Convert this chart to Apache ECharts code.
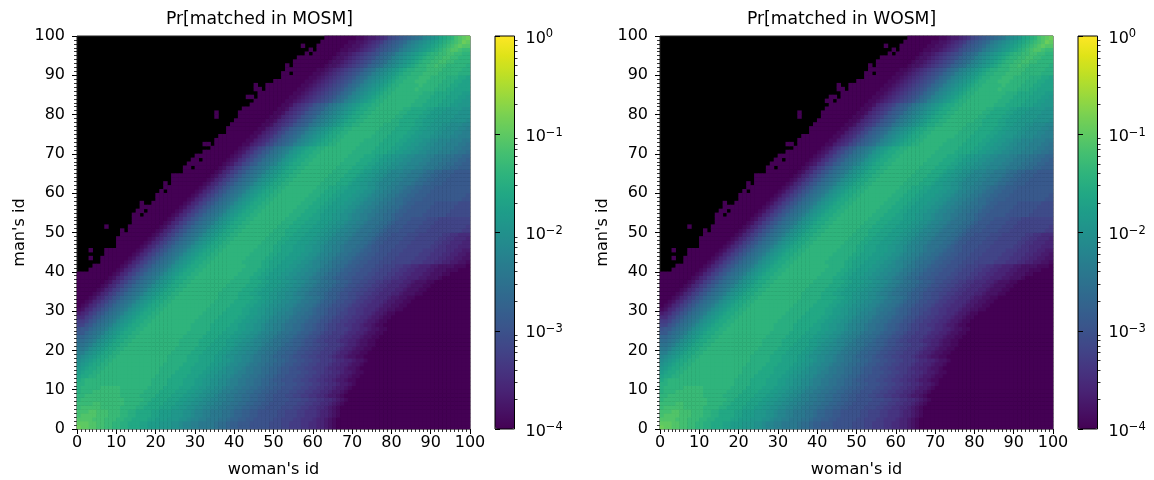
<!DOCTYPE html>
<html>
<head>
<meta charset="utf-8">
<style>
  html, body { margin: 0; padding: 0; background: #fff; }
  #chart { width: 1154px; height: 480px; }
</style>
<script src="https://cdn.jsdelivr.net/npm/echarts@6/dist/echarts.min.js"></script>
</head>
<body>
<div id="chart"></div>
<script>
// Each char is one cell, log10(p) = -4 + 0.1 * level, "." is an empty (black) cell.
const levelChars = "0123456789abcdefghijklmnopqrstuvwxyz";
// Rows go from man's id 0 up. "|" marks the diagonal: left part ends at column row - 1, right part starts at column row.
const matchRows = [
  "|vuuttssrrqqppooonnmmmlllkkjiihhggggfeedccbbbaaaaa99988777665544321",
  "u|uuttssrrqqppooonnmmmlllkkjiihhggggfeedccbbbaaaaa99988777665544321",
  "tt|ttsssrrrqqppoooonnmmmlllkkjiihhgggffeddccbbaaaaa9988877666544321",
  "stt|ttsssrrrqqppoooonnmmmlllkkjiihhgggffeddccbbaaaaa9988877666544321",
  "ssst|tsssrrrqqppoooonnmmmlllkkjiihhgggffeddccbbaaaaa9988877666544321",
  "rssss|srrrrrqqqqppoooonnnmmllkkjjiihhggffeeddccbbaaaa999887766554321",
  "rrrrss|rrrrrrqqqqppoooonnnmmllkkjjiihhggffeeddccbbaaaa999887766554321",
  "qrrrrrr|rrrrrqqqqqppoooonnnmmllkkjjiihhggffeeddccbbaaaa999887766554321",
  "qqrrrrrr|rrrqqqqqppppoooonnnmmllkkjjihhggffeeddccbbaaa998877665543321",
  "pqqqrrrrr|rrqqqqqqppppoooonnnmmllkkjjihhggffeeddccbbaaa998877665543321",
  "pqqqqqrrrr|rqqqqqqqppppoooonnnmmllkkjjihhggffeeddccbbaaa998877665543321",
  "ppqqqqqqqqq|qqqqqqqqppppoooonnnmmllkkjjihhggffeeddccbbaaa998877665543321",
  "opqqqqqqqqqq|qqqqqqqppppoooonnnmmllkkjjihhggffeeddcbbaaa9988776655433211",
  "nooppqqqqqqqq|qqqqqqqppppoooonnnmmllkkjjihhggffeeddcbbaaa9988776655433211",
  "mnooppqqqqqqqq|qqqqqqqppppoooonnnmmllkkjjihhggffeeddcbbaaa9988776655433211",
  "lmnooppqqqqqqqq|qqqqqqpppppooonnnnmmllkjjiihggffeeddcbbaa9988777655443221",
  "klmnooppqqqqqqqq|qqqqqqpppppooonnnnmmllkjjiihggffeeddcbbaa9988777655443221",
  "jklmnooppqqqqqqqq|qqqqqqpppppooonnnnmmllkjjiihggffeeddcbbaa9988777655443221",
  "ijklmnooppqqqqqqqq|qqqqqpppppooonnnnmmlkkjjiihggffeddccbaa9988777654432211",
  "hhjklmnooppqqqqqqqq|qqqqqpppppooonnnnmmlkkjjiihggffeddccbaa9988777654432211",
  "gghjklmnooppqqqqqqqq|qqqqqpppppooonnnnmmlkkjjiihggffeddccbaa9988777654432211",
  "ffghjklmnooppqqqqqqqq|qqqqqpppppooonnnnmmlkkjjiihggffeddccbaa9988777654432211",
  "eefghjklmnooppqqqqqqqq|qqqqpppppoooonnnmmllkkjiihhgffeedccbaa9887776554432211",
  "ddefghjklmnooppqqqqqqqq|qqqqpppppoooonnnmmllkkjiihhgffeedccbaa9887776554432211",
  "bbdefghjklmnooppqqqqqqqq|qqqqpppppoooonnnmmllkkjiihhgffeedccbaa9887776554432211",
  "abbdefghjklmnooppqqqqqqqq|qqqqpppppoooonnnmmllkkjiihhgffeedccbaa9887776554432211",
  "88abdefghjklmnooppqqqqqqqq|qqqpppppooooonnmmllkkjiihhgffeedccbaa988776655433211",
  "778abdefghjklmnooppqqqqqqqq|qqqpppppooooonnmmllkkjiihhgffeedccbaa988776655433211",
  "5578abdefghjklmnooppqqqqqqqq|qqqpppppooooonnmmllkkjiihhgffeedccbaa988776655433211",
  "34578abdefghjklmnooppqqqqqqqq|qqqpppppooooonnmmllkkjiihhgffeedccbaa988776655433211",
  "124578abdefghjklmnooppqqqqqqqq|qqqpppppoooonnmmllkkjjiihggffedccbaa99877665554332211",
  "0124578abdefghjklmnooppqqqqqqqq|qqqpppppoooonnmmllkkjjiihggffedccbaa99877665554332211",
  "00124578abdefghjklmnooppqqqqqqqq|qqqpppppoooonnmmllkkjjiihggffedccbaa99877665554332211",
  "000124578abdefghjklmnooppqqqqqqqq|qqqpppppoooonnmmllkkjjiihggffedccbaa99877665554332211",
  "0000124578abdefghjklmnooppqqqqqqqq|qqpppppooonnmmmllkkjjihhgffeedccbaa9988776655544322211",
  "00000124578abdefghjklmnooppqqqqqqqq|qqpppppooonnmmmllkkjjihhgffeedccbaa9988776655544322211",
  "000000124578abdefghjklmnooppqqqqqqqq|qqpppppooonnmmmllkkjjihhgffeedccbaa9988776655544322211",
  "0000000124578abdefghjklmnooppqqqqqqqq|qqpppppooonnmmmllkkjjihhgffeedccbaa9988776655544322211",
  "00000000124578abdefghjklmnooppqqqqqqqq|qqppppoonnmmmllkkjjiihggfeedccbbaaa99888776655444332221",
  "000000000124578abdefghjklmnooppqqqqqqqq|qqppppoonnmmmllkkjjiihggfeedccbbaaa998887766554443322211",
  "...0000000124578abdefghjklmnooppqqqqqqqq|qqppppoonnmmmllkkjjiihggfeedccbbaaa9988877665544433222111",
  "....0000000124578abdefghjklmnooppqqqqqqqq|qqppppoonnmmmllkkjjiihggfeedccbbaaa99888776655444332222111",
  "......000000124578abdefghjklmnooppqqqqqqqq|pppppoonnnmmmllkkjiihhgffeedccbbaaa99988888777666554433221",
  "...0..0000000124578abdefghjklmnooppqqqqqqqq|pppppoonnnmmmllkkjiihhgffeedccbbaaa99988888777666554433221",
  ".......0000000124578abdefghjklmnooppqqqqqqqq|pppppoonnnmmmllkkjiihhgffeedccbbaaa99988888777666554433221",
  "...0...00000000124578abdefghjklmnooppqqqqqqqq|pppppoonnnmmmllkkjiihhgffeedccbbaaa99988888777666554433221",
  "..........000000124578abdefghjklmnooppqqqqqqqq|ppppoonnnmmmllkkjiihhgfffeedcbbaaaa99988888877665554 44".replace(" ", ""),
  ".........0000000124578abdefghjklmnooppqqqqqqqq|ppppoonnnmmmllkkjiihhgfffeedcbbaaaa9998888887766555444",
  "........00000000124578abdefghjklmnooppqqqqqqqq|ppppoonnnmmmllkkjiihhgfffeedcbbaaaa9998888887766555444",
  "........00000000124578abdefghjklmnooppqqqqqqqq|ppppoonnnmmmllkkjiihhgfffeedcbbaaaa9998888887766555444",
  ".......0.0000000124578abdefghjklmnooppqqqqqqqq|pppooonnnmmmllkkjiihhgfffeedcbbbaaaa999888888888776",
  "..0.....00000000124578abdefghjklmnooppqqqqqqqq|pppooonnnmmmllkkjiihhgfffeedcbbbaaaa999888888888776",
  "........00000000124578abdefghjklmnooppqqqqqqqq|pppooonnnmmmllkkjiihhgfffeedcbbbaaaa999888888888776",
  ".......000000000124578abdefghjklmnooppqqqqqqqq|pppooonnnmmmllkkjiihhgfffeedcbbbaaaa999888888888776",
  "......00.0000000124578abdefghjklmnooppqqqqqqqq|pppooonnmmmllkkjiihhggffeedccbbbbbaaaaaa999999",
  "......00.0000000124578abdefghjklmnooppqqqqqqqq|pppooonnmmmllkkjiihhggffeedccbbbbbaaaaaa999999",
  "......0000000000124578abdefghjklmnooppqqqqqqqq|pppooonnmmmllkkjiihhggffeedccbbbbbaaaaaa999999",
  ".....0..00000000124578abdefghjklmnooppqqqqqqqq|pppooonnmmmllkkjiihhggffeedccbbbbbaaaaaa999999",
  "........00000000124578abdefghjklmnooppqqqqqqqq|pppooonnmmmllkkjiihhggfeeddcccbbbbbbbbbbaa",
  ".......000000000124578abdefghjklmnooppqqqqqqqq|pppooonnmmmllkkjiihhggfeeddcccbbbbbbbbbbaa",
  ".......0.0000000124578abdefghjklmnooppqqqqqqqq|pppooonnmmmllkkjiihhggfeeddcccbbbbbbbbbbaa",
  ".......000000000124578abdefghjklmnooppqqqqqqqq|pppooonnmmmllkkjiihhggfeeddcccbbbbbbbbbbaa",
  "......0.00000000124578abdefghjklmnooppqqqqqqqq|ppppooonmmllkkjiiihhgggfeeddcccbbbbbbb",
  ".......000000000124578abdefghjklmnooppqqqqqqqq|ppppooonmmllkkjiiihhgggfeeddcccbbbbbbb",
  "......0000000000124578abdefghjklmnooppqqqqqqqq|ppppooonmmllkkjiiihhgggfeeddcccbbbbbbb",
  "........00000000124578abdefghjklmnooppqqqqqqqq|ppppooonmmllkkjiiihhgggfeeddcccbbbbbbb",
  ".......00.000000124578abdefghjklmnooppqqqqqqqq|ppppooonnmmllkkjjiiihhgggffeeddcccccc",
  "........0000000001235689bcefghiklmnooppqqqqqqqq|ppppooonnmmllkkjjiiihhgggffeeddcccccc",
  ".....00.0000001235689bcefghiklmnooppqqqqqqqq|ppppooonnmmllkkjjiiihhgggffeeddcccccc",
  "......0000000001235689bcefghiklmnooppqqqqqqqq|ppppooonnmmllkkjjiiihhgggffeeddcccccc",
  ".......000000001235689bcefghiklmnooppqqqqqqqq|pppppoooonnmmllkkjjiiihhhggffeedd",
  "........00000001235689bcefghiklmnooppqqqqqqqq|pppppoooonnmmllkkjjiiihhhggffeedd",
  ".......00.000000011345689bcdefhijklmnooppqqqqqq|pppppoooonnmmllkkjjiiihhhggffeedd",
  "........0000000011345689bcdefhijklmnooppqqqqqq|pppppoooonnmmllkkjjiiihhhggffeedd",
  "........0000000011345689bcdefhijklmnooppqqqqqq|qppppoooonnmmlllkkjjjiihhh",
  ".........000000011345689bcdefhijklmnooppqqqqqq|qppppoooonnmmlllkkjjjiihhh",
  "........0000000011345689bcdefhijklmnooppqqqqqq|qppppoooonnmmlllkkjjjiihhh",
  "........0000000011245678abcdfghijklmnooppqqqqq|qppppoooonnmmlllkkjjjiihhh",
  "........0000000011245678abcdfghijklmnooppqqqqq|qqppoooonnmmmllllkkkkj",
  "..0.....0000000011245678abcdfghijklmnooppqqqqq|qqppoooonnmmmllllkkkkj",
  ".0.....00000000011245678abcdfghijklmnooppqqqqq|qqppoooonnmmmllllkkkkj",
  ".......00000000011245678abcdfghijklmnooppqqqqq|qqppoooonnmmmllllkkkkj",
  "........0000000011245678abcdfghijklmnooppqqqqq|qqqpppoooonnnmmlll",
  "........000000001123456789abdefhijklmnoppqqqqq|qqqpppoooonnnmmlll",
  "......00.000000001123456789abdefhijklmnoppqqqqq|qqqpppoooonnnmmlll",
  ".......0000000001123456789abdefhijklmnoppqqqqq|qqqpppoooonnnmmlll",
  ".......00.000000001123456789abdefhijklmnoppqqqqq|rqqqqpppoonnnn",
  "....0..0000000001123456789abdefhijklmnoppqqqqq|rqqqqpppoonnnn",
  "........000000001123456789abdefhijklmnoppqqqrr|rqqqqpppoonnnn",
  ".........00000001123456789abdefhijklmnoppqqqrr|rqqqqpppoonnnn",
  "........00.000001123456789abdefhijklmnoppqqqrr|rrqqqqqppp",
  "........000000001123456789abdefhijklmnoppqqqrr|rrqqqqqppp",
  ".......0.000000001223456789acdefhijklmnopqqrrs|rrqqqqqppp",
  "........000000000122345 6789acdefhijklmnopqqrrs|srrqqqq".replace(" ", ""),
  "........000000000122345 6789acdefhijklmnopqqrrs|srrqqqq".replace(" ", ""),
  ".........0.0000001223456789acdefhijklmnopqqrrs|srrqqqq",
  ".........0.0000001122345679abcdeghijklmnopqrst|tsrr",
  "......0...00000001122345679abcdeghijklmnopqrst|utt",
  "..........00000001122345679abcdeghijklmnopqrst|vu",
  "..........000000001123345689abcdefgijklnopqstu|v"
];
// The WOSM panel reads the same as MOSM apart from these cells: [woman, man, level]
const wosmCells = [[43, 83, 0], [43, 82, 0], [42, 83, 0]];
const cbExponents = [-4, -3, -2, -1, 0];
const cbMinorFactors = [2, 3, 4, 5, 6, 7, 8, 9];
const viridis = ["#440154", "#471365", "#482475", "#463480", "#414487", "#3b528b", "#355f8d", "#2f6c8e", "#2a788e",
  "#25858e", "#21918c", "#1e9c89", "#22a884", "#2fb47c", "#43bf71", "#5ec962", "#7ad151", "#9bd93c", "#bddf26",
  "#dfe318", "#fde725"];
const titles = ["Pr[matched in MOSM]", "Pr[matched in WOSM]"];
const font = "DejaVu Sans";

function cellsFromRows(rows, extra) {
  const cells = [];
  rows.forEach((row, y) => {
    const [before, after] = row.split("|");
    for (let i = 0; i < before.length; i++) {
      const x = y - before.length + i;
      if (x >= 0 && before[i] !== ".") cells.push([x, y, -4 + 0.1 * levelChars.indexOf(before[i])]);
    }
    // past the end of a row the low rows are level 0, the high ones keep their last level
    const fill = y < 42 ? "0" : after[after.length - 1];
    for (let x = y; x < 100; x++) {
      const c = x - y < after.length ? after[x - y] : fill;
      cells.push([x, y, -4 + 0.1 * levelChars.indexOf(c)]);
    }
  });
  (extra || []).forEach(e => cells.push([e[0], e[1], -4 + 0.1 * e[2]]));
  return cells;
}

const cellIds = [];
for (let i = 0; i < 100; i++) cellIds.push(String(i));

const cbMinor = [];
cbExponents.slice(0, -1).forEach(e => cbMinorFactors.forEach(f => cbMinor.push(e + Math.log10(f))));

const panels = [
  { left: 77, cb: 495, titleLeft: 254.5, cells: cellsFromRows(matchRows) },
  { left: 660, cb: 1078, titleLeft: 836.5, cells: cellsFromRows(matchRows, wosmCells) }
];

const option = {
  animation: false, backgroundColor: "#fff", textStyle: { fontFamily: font },
  title: [], grid: [], xAxis: [], yAxis: [], series: [], visualMap: []
};

panels.forEach((p, i) => {
  const g = i * 2;
  option.title.push({
    text: titles[i], left: p.titleLeft, top: 6, textAlign: "center",
    textStyle: { fontFamily: font, fontSize: 17.2, fontWeight: "normal", color: "#000" }
  });
  option.grid.push({
    left: p.left, top: 36, width: 393, height: 393, show: true, outerBoundsMode: "none",
    backgroundColor: "#000", borderColor: "#222", borderWidth: 1
  });
  option.grid.push({
    left: p.cb, top: 36, width: 19.5, height: 393, show: true, z: 10, outerBoundsMode: "none",
    backgroundColor: "transparent", borderColor: "#000", borderWidth: 1
  });
  const valueAxis = {
    gridIndex: g, type: "value", min: 0, max: 100, interval: 10,
    axisLine: { show: false }, splitLine: { show: false },
    axisTick: { length: 5, lineStyle: { color: "#000", width: 1 } },
    minorTick: { show: true, splitNumber: 10, length: 3, lineStyle: { color: "#000", width: 0.8 } },
    axisLabel: { color: "#000", fontSize: 16, fontFamily: font },
    nameLocation: "middle",
    nameTextStyle: { color: "#000", fontSize: 16.1, fontFamily: font }
  };
  option.xAxis.push(
    { gridIndex: g, type: "category", data: cellIds, show: false },
    Object.assign({}, valueAxis, {
      position: "bottom", name: "woman's id", nameGap: 33,
      axisLabel: Object.assign({}, valueAxis.axisLabel, { margin: 6 })
    }),
    { gridIndex: g + 1, type: "value", min: 0, max: 1, show: false }
  );
  option.yAxis.push(
    { gridIndex: g, type: "category", data: cellIds, show: false },
    Object.assign({}, valueAxis, {
      position: "left", name: "man's id", nameGap: 49,
      axisLabel: Object.assign({}, valueAxis.axisLabel, { margin: 12 })
    }),
    {
      gridIndex: g + 1, type: "value", min: -4, max: 0, interval: 1, position: "right", z: 10,
      axisLine: { show: false }, splitLine: { show: false },
      axisTick: { length: 5, lineStyle: { color: "#000", width: 1 } },
      axisLabel: {
        margin: 11, color: "#000", fontSize: 16, fontFamily: font, align: "left", padding: [5, 0, 0, 0],
        formatter: v => "10{sup|" + (v < 0 ? "\u2212" + (-v) : v) + "}",
        rich: { sup: { fontSize: 11.5, color: "#000", fontFamily: font, verticalAlign: "bottom", padding: [0, 0, 8, 0] } }
      }
    },
    {
      gridIndex: g + 1, type: "value", min: -4, max: 0, position: "right", z: 10,
      axisLine: { show: false }, splitLine: { show: false }, axisLabel: { show: false },
      axisTick: { length: 3, customValues: cbMinor, lineStyle: { color: "#000", width: 0.8 } }
    }
  );
  option.series.push({
    type: "heatmap", xAxisIndex: i * 3, yAxisIndex: i * 4, data: p.cells,
    progressive: 0, silent: true, emphasis: { disabled: true }
  });
  option.visualMap.push({
    type: "continuous", min: -4, max: 0, seriesIndex: i, dimension: 2,
    left: p.cb, top: 36, itemWidth: 19.5, itemHeight: 393, padding: 0,
    calculable: false, hoverLink: false, text: null, showLabel: false,
    inRange: { color: viridis }
  });
});

const chart = echarts.init(document.getElementById("chart"));
chart.setOption(option);
</script>
</body>
</html>
